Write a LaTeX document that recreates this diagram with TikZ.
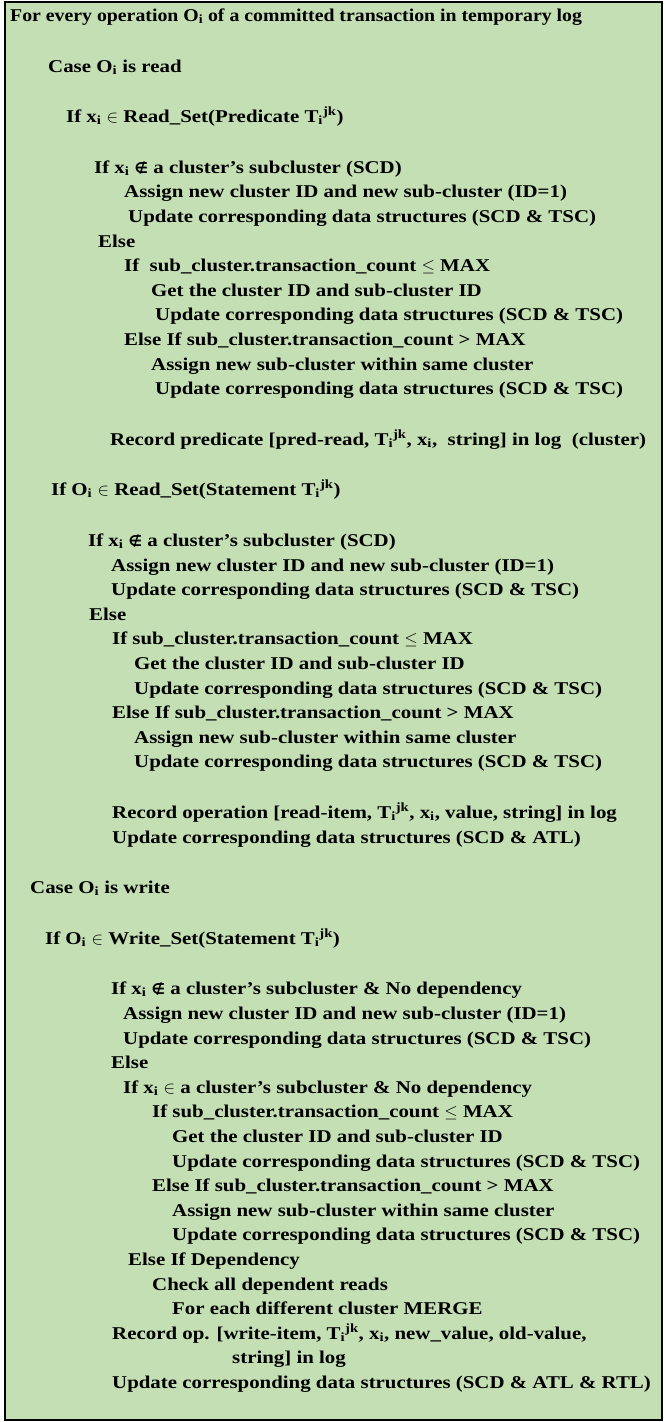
\documentclass[tikz,border=0pt]{standalone}
\usepackage{fontspec}
\setmainfont{Liberation Serif}[FakeStretch=1.16]
\newfontfamily\firstfont{Liberation Serif}[FakeStretch=1.1]
\newfontfamily\symfont{DejaVu Sans}
\definecolor{boxgreen}{RGB}{196,223,180}
\newcommand{\Oi}{O\textsubscript{i}}
\newcommand{\xsub}{x\textsubscript{i}}
\newcommand{\Tjk}{T\textsubscript{i}\textsuperscript{jk}}
\newcommand{\notinb}{{\symfont\bfseries\fontsize{15}{15}\selectfont ∉}}
\tikzset{codeline/.style={anchor=base west, inner sep=0pt, font=\bfseries\fontsize{18}{20}\selectfont}}
\begin{document}
\begin{tikzpicture}[x=1pt, y=-1pt]
\useasboundingbox (0,0) rectangle (666,1422);
\filldraw[fill=boxgreen, line width=2.5pt] (5,2) rectangle (662,1420);
\node[codeline, font=\firstfont\bfseries\fontsize{18}{20}\selectfont] at (10,21) (l1) {For every operation \Oi{} of a committed transaction in temporary log};
\node[codeline] at (48,72) (l2) {Case \Oi{} is read};
\node[codeline] at (66,122) (l3) {If \xsub{} $\in$ Read\_Set(Predicate \Tjk)};
\node[codeline] at (94,173) (l4) {If \xsub{} \notinb{} a cluster’s subcluster (SCD)};
\node[codeline] at (124,197) (l5) {Assign new cluster ID and new sub-cluster (ID=1)};
\node[codeline] at (128,222) (l6) {Update corresponding data structures (SCD \& TSC)};
\node[codeline] at (98,247) (l7) {Else};
\node[codeline] at (124,271) (l8) {If\ \ sub\_cluster.transaction\_count $\leq$ MAX};
\node[codeline] at (151,296) (l9) {Get the cluster ID and sub-cluster ID};
\node[codeline] at (155,320) (l10) {Update corresponding data structures (SCD \& TSC)};
\node[codeline] at (124,345) (l11) {Else If sub\_cluster.transaction\_count > MAX};
\node[codeline] at (151,370) (l12) {Assign new sub-cluster within same cluster};
\node[codeline] at (155,394) (l13) {Update corresponding data structures (SCD \& TSC)};
\node[codeline] at (110,445) (l14) {Record predicate [pred-read, \Tjk, \xsub,\ \ string] in log\ \ (cluster)};
% read statement
\node[codeline] at (51,495) (l15) {If \Oi{} $\in$ Read\_Set(Statement \Tjk)};
\node[codeline] at (88,546) (l16) {If \xsub{} \notinb{} a cluster’s subcluster (SCD)};
\node[codeline] at (111,571) (l17) {Assign new cluster ID and new sub-cluster (ID=1)};
\node[codeline] at (111,595) (l18) {Update corresponding data structures (SCD \& TSC)};
\node[codeline] at (89,620) (l19) {Else};
\node[codeline] at (112,644) (l20) {If sub\_cluster.transaction\_count $\leq$ MAX};
\node[codeline] at (134,669) (l21) {Get the cluster ID and sub-cluster ID};
\node[codeline] at (134,694) (l22) {Update corresponding data structures (SCD \& TSC)};
\node[codeline] at (112,718) (l23) {Else If sub\_cluster.transaction\_count > MAX};
\node[codeline] at (134,743) (l24) {Assign new sub-cluster within same cluster};
\node[codeline] at (134,767) (l25) {Update corresponding data structures (SCD \& TSC)};
\node[codeline] at (112,818) (l26) {Record operation [read-item, \Tjk, \xsub, value, string] in log};
\node[codeline] at (112,843) (l27) {Update corresponding data structures (SCD \& ATL)};
% write
\node[codeline] at (30,893) (l28) {Case \Oi{} is write};
\node[codeline] at (45,944) (l29) {If \Oi{} $\in$ Write\_Set(Statement \Tjk)};
\node[codeline] at (111,994) (l30) {If \xsub{} \notinb{} a cluster’s subcluster \& No dependency};
\node[codeline] at (123,1019) (l31) {Assign new cluster ID and new sub-cluster (ID=1)};
\node[codeline] at (123,1044) (l32) {Update corresponding data structures (SCD \& TSC)};
\node[codeline] at (111,1068) (l33) {Else};
\node[codeline] at (123,1093) (l34) {If \xsub{} $\in$ a cluster’s subcluster \& No dependency};
\node[codeline] at (152,1117) (l35) {If sub\_cluster.transaction\_count $\leq$ MAX};
\node[codeline] at (172,1142) (l36) {Get the cluster ID and sub-cluster ID};
\node[codeline] at (172,1167) (l37) {Update corresponding data structures (SCD \& TSC)};
\node[codeline] at (152,1191) (l38) {Else If sub\_cluster.transaction\_count > MAX};
\node[codeline] at (172,1216) (l39) {Assign new sub-cluster within same cluster};
\node[codeline] at (172,1240) (l40) {Update corresponding data structures (SCD \& TSC)};
\node[codeline] at (128,1265) (l41) {Else If Dependency};
\node[codeline] at (152,1290) (l42) {Check all dependent reads};
\node[codeline] at (172,1314) (l43) {For each different cluster MERGE};
\node[codeline] at (112,1339) (l44) {Record op. [write-item, \Tjk, \xsub, new\_value, old-value,};
\node[codeline] at (232,1363) (l45) {string] in log};
\node[codeline] at (112,1388) (l46) {Update corresponding data structures (SCD \& ATL \& RTL)};
\end{tikzpicture}
\end{document}
